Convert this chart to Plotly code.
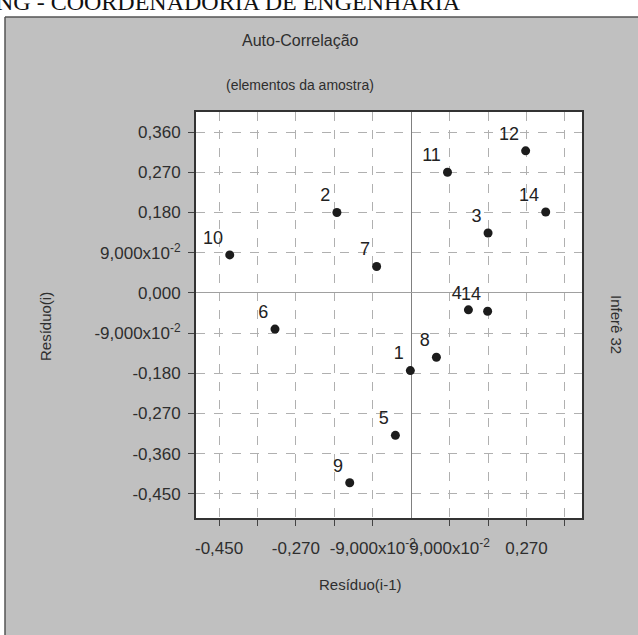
import plotly.graph_objects as go

# ---- data ----
point_labels = ["1", "2", "3", "4", "5", "6", "7", "8", "9", "10", "11", "12", "14", "14"]
residuo_prev = [-0.002, -0.174, 0.180, 0.134, -0.037, -0.319, -0.081, 0.059, -0.144, -0.425, 0.085, 0.268, 0.315, 0.179]
residuo_i    = [-0.174, 0.180, 0.134, -0.038, -0.319, -0.081, 0.059, -0.144, -0.425, 0.085, 0.270, 0.318, 0.181, -0.041]

x_tickvals = [-0.45, -0.27, -0.09, 0.09, 0.27]
x_ticktext = ["-0,450", "-0,270", "-9,000x10<sup>-2</sup>", "9,000x10<sup>-2</sup>", "0,270"]
y_tickvals = [0.36, 0.27, 0.18, 0.09, 0.0, -0.09, -0.18, -0.27, -0.36, -0.45]
y_ticktext = ["0,360", "0,270", "0,180", "9,000x10<sup>-2</sup>", "0,000", "-9,000x10<sup>-2</sup>",
              "-0,180", "-0,270", "-0,360", "-0,450"]
grid_vals = [-0.45, -0.36, -0.27, -0.18, -0.09, 0.09, 0.18, 0.27, 0.36]

title_text = "Auto-Correlação"
subtitle_text = "(elementos da amostra)"
x_title = "Resíduo(i-1)"
y_title = "Resíduo(i)"
side_text = "Inferê 32"
header_text = "NG - COORDENADORIA DE ENGENHARIA"

# ---- layout geometry (pixels) ----
W, H = 638, 635
L, R, T, B = 196, 56, 112, 117
PW, PH = W - L - R, H - T - B

def px(xp):
    return (xp - L) / PW

def py(yp):
    return (H - B - yp) / PH

FONT = "Arial, Liberation Sans, sans-serif"
PANEL = "#c0c0c0"
INK = "#2e2e2e"

fig = go.Figure()

fig.add_trace(go.Scatter(
    x=residuo_prev, y=residuo_i, text=point_labels,
    mode="markers+text", textposition="top left",
    textfont=dict(family=FONT, size=18, color="#222222"),
    marker=dict(size=9, color="#1c1c1c", symbol="circle"),
    cliponaxis=False, showlegend=False, hoverinfo="x+y+text",
))

axis_common = dict(
    showgrid=True, gridcolor="#b0b0b0", griddash="dash", gridwidth=1,
    showline=True, linecolor="#333333", linewidth=2, mirror=True,
    ticks="outside", ticklen=6, tickcolor="#444444", tickwidth=1,
    tickfont=dict(family=FONT, size=17, color=INK),
    zeroline=True, tickangle=0,
)

fig.update_xaxes(
    range=[-0.504, 0.40], tickmode="array", tickvals=x_tickvals, ticktext=x_ticktext,
    zerolinecolor="#808080", zerolinewidth=1,
    minor=dict(tickvals=grid_vals, showgrid=True, gridcolor="#b0b0b0", griddash="dash",
               ticks="outside", ticklen=6, tickcolor="#444444"),
    ticklabelstandoff=8, **axis_common,
)
fig.update_yaxes(
    range=[-0.504, 0.405], tickmode="array", tickvals=y_tickvals, ticktext=y_ticktext,
    zerolinecolor="#a0a0a0", zerolinewidth=1,
    ticklabelstandoff=4, **axis_common,
)

shapes = [
    # white strip at the top of the scanned page
    dict(type="rect", xref="paper", yref="paper", x0=px(-5), x1=px(W + 5), y0=py(17), y1=py(-5),
         fillcolor="white", line=dict(width=0), layer="below"),
    dict(type="rect", xref="paper", yref="paper", x0=px(-5), x1=px(5), y0=py(H + 5), y1=py(-5),
         fillcolor="white", line=dict(width=0), layer="below"),
    # panel border (top and left)
    dict(type="line", xref="paper", yref="paper", x0=px(5), x1=px(W + 5), y0=py(17), y1=py(17),
         line=dict(color="#555555", width=1.5)),
    dict(type="line", xref="paper", yref="paper", x0=px(5), x1=px(5), y0=py(17), y1=py(H + 5),
         line=dict(color="#555555", width=1.5)),
]

annotations = [
    dict(text=header_text, xref="paper", yref="paper", x=px(-6), y=py(17), xanchor="left", yanchor="bottom",
         showarrow=False, font=dict(family="Liberation Serif, Times New Roman, serif", size=24, color="#111111")),
    dict(text=title_text, xref="paper", yref="paper", x=px(300), y=py(40), xanchor="center", yanchor="middle",
         showarrow=False, font=dict(family=FONT, size=16, color=INK)),
    dict(text=subtitle_text, xref="paper", yref="paper", x=px(300), y=py(85), xanchor="center", yanchor="middle",
         showarrow=False, font=dict(family=FONT, size=14, color=INK)),
    dict(text=x_title, xref="paper", yref="paper", x=px(360), y=py(584), xanchor="center", yanchor="middle",
         showarrow=False, font=dict(family=FONT, size=15, color=INK)),
    dict(text=y_title, xref="paper", yref="paper", x=px(45), y=py(327), xanchor="center", yanchor="middle",
         textangle=-90, showarrow=False, font=dict(family=FONT, size=15, color=INK)),
    dict(text=side_text, xref="paper", yref="paper", x=px(617), y=py(324), xanchor="center", yanchor="middle",
         textangle=90, showarrow=False, font=dict(family=FONT, size=15, color=INK)),
]

fig.update_layout(
    width=W, height=H, autosize=False,
    margin=dict(l=L, r=R, t=T, b=B, pad=0),
    paper_bgcolor=PANEL, plot_bgcolor="white",
    shapes=shapes, annotations=annotations,
    showlegend=False,
)

fig.write_html("out.html", config={"displayModeBar": False},
               post_script="document.body.style.margin='0';document.body.style.overflow='hidden';")
